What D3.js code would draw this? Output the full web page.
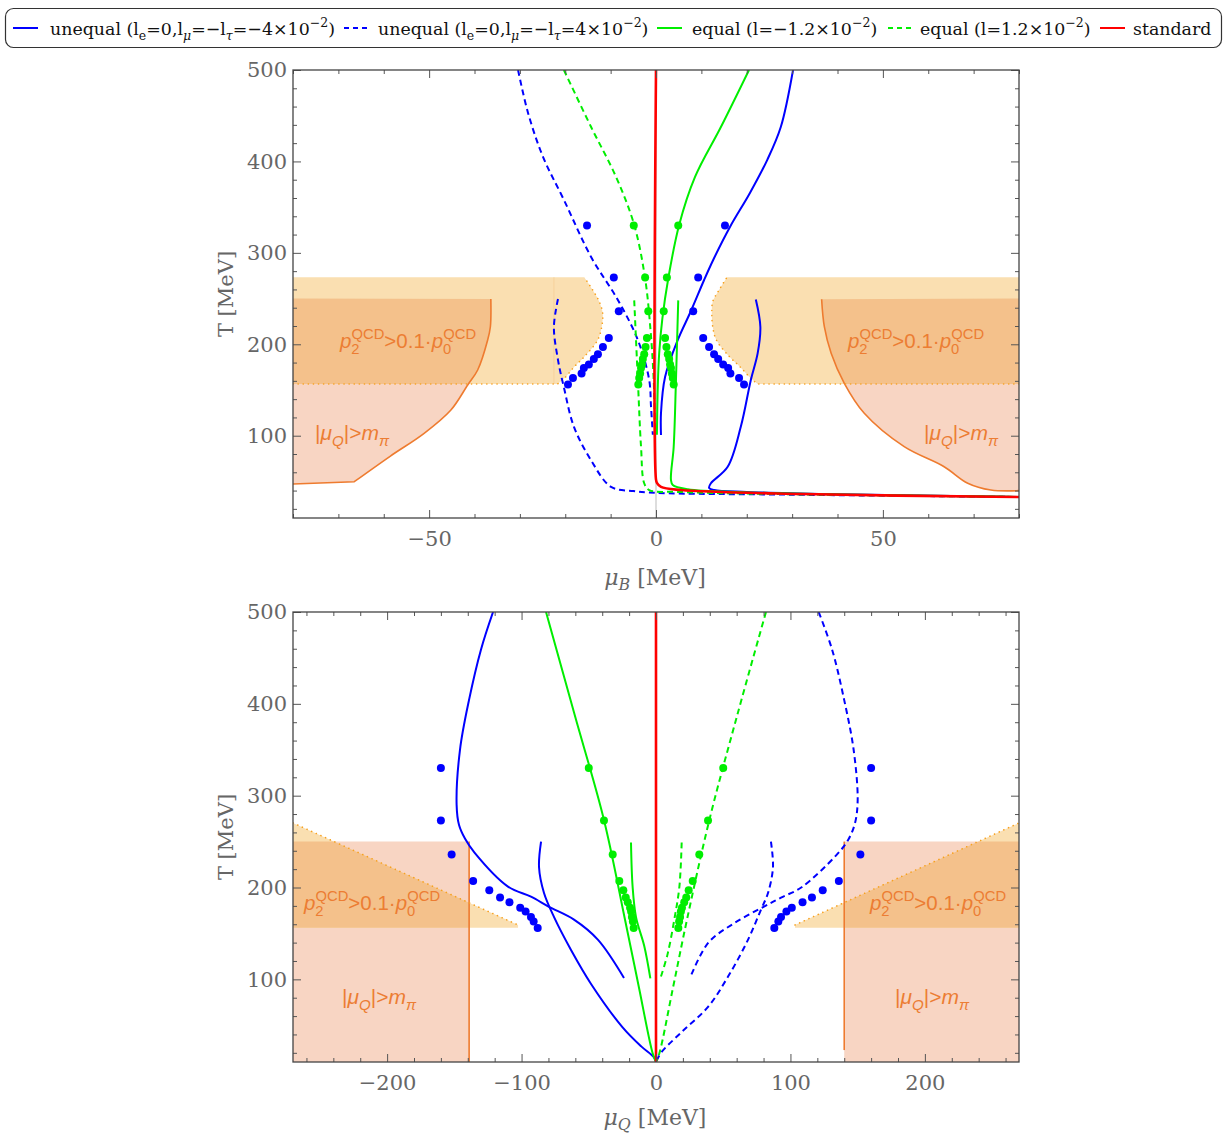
<!DOCTYPE html>
<html>
<head>
<meta charset="utf-8">
<script src="https://cdn.jsdelivr.net/npm/d3@7"></script>
<style>
body { margin: 0; background: #fff; }
svg { display: block; }
</style>
</head>
<body>
<div id="wrapper"></div>
<script>
var W = 1226, H = 1136;
var blue = "#0000ff", green = "#00ee00", red = "#ff0000";
var fillBand = "#fadfb1", fillPink = "#f8d5c3", fillBoth = "#f4c18b";
var orange = "#ee7b2f", orangeDot = "#f7a11f", labelOrange = "#ec7d33";

// legend
var legendLabels = [
	[["unequal (l"], ["e", "sub"], ["=0,l"], ["μ", "itsub"], ["=−l"], ["τ", "itsub"], ["=−4×10"], ["−2", "sup"], [")"]],
	[["unequal (l"], ["e", "sub"], ["=0,l"], ["μ", "itsub"], ["=−l"], ["τ", "itsub"], ["=4×10"], ["−2", "sup"], [")"]],
	[["equal (l=−1.2×10"], ["−2", "sup"], [")"]],
	[["equal (l=1.2×10"], ["−2", "sup"], [")"]],
	[["standard"]]
];
var legendColors = [blue, blue, green, green, red];
var legendDashed = [false, true, false, true, false];

// temperatures of the dots (same in both panels)
var dotT = [330, 273, 236, 207, 197, 189, 184, 178, 174, 168, 163, 156];

// ---------- upper panel: mu_B ----------
var muBTicks = [-50, 0, 50];
var muBMinor = [-80, -70, -60, -40, -30, -20, -10, 10, 20, 30, 40, 60, 70, 80];
var tTicks = [100, 200, 300, 400, 500];
var tMinor = [20, 40, 60, 80, 120, 140, 160, 180, 220, 240, 260, 280, 320, 340, 360, 380, 420, 440, 460, 480];

var muBStandard = [[0, 500], [0, 52], [0.2, 48.5], [1.1, 44], [5.5, 40.6], [32, 36.2], [80, 33]];
var muBBlueSolidHigh = [[30.2, 500], [27.5, 437.6], [24.5, 401.5], [20.7, 365.5], [16.3, 328.3], [12.6, 292.2], [10.6, 270.3], [7.7, 236.4], [4.8, 204.7], [2.0, 164.2], [1.1, 124.8], [1.1, 100.8]];
var muBBlueSolidLow = [[22.0, 249], [23.0, 219], [22.4, 190], [20.9, 161], [18.7, 110], [15.8, 66], [12.1, 48], [11.7, 43], [12.8, 40.6], [20, 38.5], [40, 36], [80, 33]];
var muBBlueDashedHigh = [[-30.4, 500], [-28.2, 453], [-24.9, 405], [-20.3, 358], [-14.3, 295.5], [-8.4, 248.4], [-4, 204.7], [-1.5, 161], [-1.1, 132], [-0.7, 101]];
var muBBlueDashedLow = [[-21.6, 249.5], [-22.5, 219], [-21.6, 183], [-20.3, 153], [-18.1, 110], [-14.3, 73], [-9.9, 44], [-5, 39.5], [0, 37.5], [30, 35.5], [80, 33]];
var muBGreenSolidHigh = [[20.5, 500], [14.3, 437.6], [8.6, 383], [5.1, 330.5], [2.7, 272], [1.4, 228], [0.7, 190], [0.4, 155], [0.2, 101]];
var muBGreenSolidLow = [[4.9, 248], [4.4, 161], [3.9, 88], [3.3, 51.6], [3.7, 46], [7, 41.4], [20, 38], [80, 33]];
var muBGreenDashedHigh = [[-20.3, 500], [-14.3, 437.6], [-8.8, 383], [-4.8, 330.5], [-2.4, 272], [-1.2, 215], [-0.5, 160], [-0.2, 101]];
var muBGreenDashedLow = [[-4.8, 248], [-4.0, 161], [-3.3, 88], [-2.6, 48], [-1.5, 40.6], [5, 38.5], [30, 36], [80, 33]];
var muBDotsBlue = [15.2, 9.3, 8.2, 10.4, 11.7, 12.8, 13.7, 14.8, 15.9, 16.4, 18.3, 19.4];
var muBDotsGreen = [4.9, 2.4, 1.7, 2.0, 2.3, 2.6, 2.9, 3.1, 3.3, 3.5, 3.7, 3.9];

// shaded regions, upper panel
var muBBandT = [156.6, 273.3];
var muBBandEdgeLeft = [[-15.8, 273.3], [-13.95, 259.4], [-12.5, 246.6], [-11.75, 233.9], [-11.97, 219.2], [-12.85, 204.7], [-15.8, 186.4], [-18.0, 175.5], [-20.2, 162.8], [-21.7, 156.6]];
var muBBandEdgeRight = [[15.65, 273.3], [13.9, 259.4], [12.5, 246.6], [12.3, 233.9], [12.5, 219.2], [13.3, 204.7], [16.2, 186.4], [18.5, 175.5], [20.9, 162.8], [22.4, 156.6]];
var muBPinkTop = 250;
var muBPinkEdgeLeft = [[-36.4, 249.5], [-36.5, 219.2], [-37.1, 204.7], [-39.3, 171.9], [-41.5, 155.5], [-45.2, 128.1], [-51.1, 102.6], [-58.6, 77.5], [-66.5, 49.7], [-80, 47.2]];
var muBPinkEdgeRight = [[36.5, 249.2], [37.1, 219.2], [38.6, 190.1], [41.5, 157.3], [45.9, 124.5], [54.7, 88], [63.5, 66.1], [68.7, 48], [73.8, 40.6], [80, 39.9]];

// ---------- lower panel: mu_Q ----------
var muQTicks = [-200, -100, 0, 100, 200];
var muQMinor = [-260, -240, -220, -180, -160, -140, -120, -80, -60, -40, -20, 20, 40, 60, 80, 120, 140, 160, 180, 220, 240, 260];

var muQStandard = [[0, 500], [0, 10]];
var muQBlueSolidHigh = [[-121.2, 500], [-130.2, 459], [-139.1, 404], [-145.8, 350], [-148.3, 290], [-146.5, 268], [-142, 253], [-135, 238], [-110.1, 201], [-93, 190], [-79.6, 179], [-61, 165], [-43.1, 143], [-23.8, 101.5]];
var muQBlueSolidLow = [[-85.5, 250], [-87, 222], [-83.3, 194], [-75.9, 168], [-63.2, 132], [-48.3, 95], [-25, 48], [-11, 27], [-1.5, 15], [0, 10]];
var muQBlueDashedHigh = [[121, 500], [131, 459], [140, 404], [147, 350], [150, 295], [148, 270], [143, 252], [134, 235], [108, 200], [93, 189], [80, 179], [58, 161], [39, 140], [26, 104]];
var muQBlueDashedLow = [[85.5, 250], [87, 222], [83.3, 194], [78.1, 176], [68.4, 143], [53.6, 103], [38.7, 70], [18.6, 42], [3.7, 20], [0, 10]];
var muQGreenSolidHigh = [[-81.8, 500], [-60.3, 387], [-38.7, 273.6], [-23, 164.7], [-12.8, 92], [-2.5, 19.5], [0, 10]];
var muQGreenSolidLow = [[-18.6, 249], [-17.4, 201], [-14.9, 168], [-8.7, 136], [-4.2, 101]];
var muQGreenDashedHigh = [[81.8, 500], [60.3, 387], [39.7, 273.6], [23, 164.7], [12.8, 92], [2.5, 19.5], [0, 10]];
var muQGreenDashedLow = [[19.1, 249], [17.4, 201], [13.6, 165], [8.7, 128], [3.7, 103]];
var muQDotsBlue = [160, 160, 152, 136, 124, 116, 109, 101, 97, 93, 91, 88];
var muQDotsGreen = [50, 38.7, 32.2, 27.3, 24.3, 22.5, 21, 19.3, 18.5, 17.9, 17.2, 16.6];

// shaded regions, lower panel
var muQPinkT = [10, 250];
var muQPinkLeft = -139;
var muQPinkRight = 140;
var muQPinkRightLineEnd = 23;
var muQBandLeft = [[-270, 270.3], [-102.6, 159.2], [-102.6, 156.3], [-270, 156.3]];
var muQBandRight = [[103.4, 159.2], [270, 270.3], [270, 156.3], [103.4, 156.3]];


var svg = d3.select("#wrapper").append("svg")
	.attr("width", W)
	.attr("height", H)
	.style("font-family", "'DejaVu Serif', serif");

svg.append("rect").attr("width", W).attr("height", H).attr("fill", "#fff");

// text with sub/superscripts built from [string, style, dx] parts
function richText(sel, parts, size, subShift){
	var shift = 0;
	var down = subShift == null ? 0.3 : subShift;
	parts.forEach(function(p){
		var s = p[1] || "";
		var target = 0, fs = size;
		if (s.indexOf("sub") >= 0){ target = size * down; fs = size * 0.72; }
		if (s.indexOf("sup") >= 0){ target = -size * 0.42; fs = size * 0.72; }
		var t = sel.append("tspan").text(p[0])
			.attr("dy", target - shift)
			.style("font-size", fs + "px");
		if (s.indexOf("it") >= 0) t.style("font-style", "italic");
		if (p[2] != null) t.attr("dx", p[2]);
		shift = target;
	});
}

function drawPanel(o){
	var sx = d3.scaleLinear().domain(o.xDomain).range([293, 1019]);
	var sy = d3.scaleLinear().domain([10, 500]).range([o.bottom, o.top]);
	var g = svg.append("g");

	var clipId = "clip" + o.name;
	svg.append("clipPath").attr("id", clipId).append("rect")
		.attr("x", 293).attr("y", o.top).attr("width", 726).attr("height", o.bottom - o.top);
	var plot = g.append("g").attr("clip-path", "url(#" + clipId + ")");

	var smooth = d3.line().x(function(d){ return sx(d[0]); }).y(function(d){ return sy(d[1]); })
		.curve(d3.curveCatmullRom.alpha(0.5));
	var straight = d3.line().x(function(d){ return sx(d[0]); }).y(function(d){ return sy(d[1]); });

	o.regions(plot, sx, sy, smooth, straight);

	// zero axis
	plot.append("line")
		.attr("x1", sx(0)).attr("x2", sx(0)).attr("y1", o.top).attr("y2", o.bottom)
		.attr("stroke", "#bbb").attr("stroke-width", 1);

	o.curves.forEach(function(c){
		plot.append("path")
			.attr("d", smooth(c.pts))
			.attr("fill", "none")
			.attr("stroke", c.color)
			.attr("stroke-width", c.color == red ? 2.6 : 2)
			.attr("stroke-dasharray", c.dashed ? "6,4" : null);
	});

	o.dots.forEach(function(d){
		dotT.forEach(function(t, i){
			[-1, 1].forEach(function(sgn){
				plot.append("circle")
					.attr("cx", sx(sgn * d.values[i]))
					.attr("cy", sy(t))
					.attr("r", 4)
					.attr("fill", d.color);
			});
		});
	});

	o.labels(plot, sx, sy);

	// frame and ticks
	var specs = [
		[d3.axisBottom(sx).tickValues(o.xTicks).tickSize(-8).tickPadding(13), 0, o.bottom],
		[d3.axisBottom(sx).tickValues(o.xMinor).tickSize(-4).tickFormat(""), 0, o.bottom],
		[d3.axisTop(sx).tickValues(o.xTicks).tickSize(-8).tickFormat(""), 0, o.top],
		[d3.axisTop(sx).tickValues(o.xMinor).tickSize(-4).tickFormat(""), 0, o.top],
		[d3.axisLeft(sy).tickValues(tTicks).tickSize(-8).tickPadding(6), 293, 0],
		[d3.axisLeft(sy).tickValues(tMinor).tickSize(-4).tickFormat(""), 293, 0],
		[d3.axisRight(sy).tickValues(tTicks).tickSize(-8).tickFormat(""), 1019, 0],
		[d3.axisRight(sy).tickValues(tMinor).tickSize(-4).tickFormat(""), 1019, 0]
	];
	specs.forEach(function(s){
		var a = g.append("g").attr("transform", "translate(" + s[1] + "," + s[2] + ")").call(s[0]);
		a.select(".domain").remove();
		a.selectAll("line").attr("stroke", "#555").attr("stroke-width", 1);
		a.selectAll("text").attr("fill", "#666")
			.style("font-family", "'DejaVu Serif', serif")
			.style("font-size", "21px");
	});
	g.append("rect")
		.attr("x", 293).attr("y", o.top).attr("width", 726).attr("height", o.bottom - o.top)
		.attr("fill", "none").attr("stroke", "#444").attr("stroke-width", 1.3);

	// axis titles
	g.append("text")
		.attr("transform", "translate(233," + ((o.top + o.bottom) / 2) + ") rotate(-90)")
		.attr("text-anchor", "middle")
		.attr("fill", "#666")
		.style("font-size", "21px")
		.text("T [MeV]");
	var xt = g.append("text")
		.attr("x", 655).attr("y", o.titleY)
		.attr("text-anchor", "middle")
		.attr("fill", "#666");
	richText(xt, [["μ", "it"], [o.sub, "itsub"], [" [MeV]"]], 22, 0.22);
}

function orangeLabels(plot, pos){
	pos.p2.forEach(function(p){
		var t = plot.append("text").attr("x", p[0]).attr("y", p[1])
			.attr("text-anchor", "middle").attr("fill", labelOrange)
			.style("font-family", "'Liberation Sans', Arial, sans-serif");
		richText(t, [["p", "it"], ["2", "sub"], ["QCD", "sup", -8], [">0.1·"], ["p", "it"], ["0", "sub"], ["QCD", "sup", -8]], 20.5);
	});
	pos.mq.forEach(function(p){
		var t = plot.append("text").attr("x", p[0]).attr("y", p[1])
			.attr("text-anchor", "middle").attr("fill", labelOrange)
			.style("font-family", "'Liberation Sans', Arial, sans-serif");
		richText(t, [["|"], ["μ", "it"], ["Q", "itsub"], ["|>"], ["m", "it"], ["π", "itsub"]], 21);
	});
}

// ---------- upper panel ----------
drawPanel({
	name: "B", sub: "B",
	xDomain: [-80, 80], top: 70, bottom: 518, titleY: 585,
	xTicks: muBTicks, xMinor: muBMinor,
	curves: [
		{pts: muBBlueDashedHigh, color: blue, dashed: true},
		{pts: muBBlueDashedLow, color: blue, dashed: true},
		{pts: muBBlueSolidHigh, color: blue},
		{pts: muBBlueSolidLow, color: blue},
		{pts: muBGreenDashedHigh, color: green, dashed: true},
		{pts: muBGreenDashedLow, color: green, dashed: true},
		{pts: muBGreenSolidHigh, color: green},
		{pts: muBGreenSolidLow, color: green},
		{pts: muBStandard, color: red}
	],
	dots: [{values: muBDotsBlue, color: blue}, {values: muBDotsGreen, color: green}],
	regions: function(plot, sx, sy, smooth, straight){
		function lineTo(pts){ return smooth(pts).replace(/^M/, "L"); }
		// left edge: smooth, then a straight tail to the frame
		function pinkEdge(pts){
			var last = pts[pts.length - 1];
			return smooth(pts.slice(0, -1)) + "L" + sx(last[0]) + "," + sy(last[1]);
		}
		var edgeL = pinkEdge(muBPinkEdgeLeft);
		var edgeR = smooth(muBPinkEdgeRight);
		var pinkL = "M" + sx(-80) + "," + sy(muBPinkTop) + edgeL.replace(/^M/, "L") + "Z";
		var pinkR = "M" + sx(80) + "," + sy(muBPinkTop) + edgeR.replace(/^M/, "L") + "Z";
		var bandL = "M" + sx(-80) + "," + sy(muBBandT[1]) + lineTo(muBBandEdgeLeft) +
			"L" + sx(-80) + "," + sy(muBBandT[0]) + "Z";
		var bandR = "M" + sx(80) + "," + sy(muBBandT[1]) + lineTo(muBBandEdgeRight) +
			"L" + sx(80) + "," + sy(muBBandT[0]) + "Z";

		var cp = svg.append("clipPath").attr("id", "bandB");
		cp.append("path").attr("d", bandL);
		cp.append("path").attr("d", bandR);

		[pinkL, pinkR].forEach(function(d){ plot.append("path").attr("d", d).attr("fill", fillPink); });
		[bandL, bandR].forEach(function(d){ plot.append("path").attr("d", d).attr("fill", fillBand); });
		[pinkL, pinkR].forEach(function(d){
			plot.append("path").attr("d", d).attr("fill", fillBoth).attr("clip-path", "url(#bandB)");
		});
		// faint seam inside the left band
		plot.append("line")
			.attr("x1", sx(-22.5)).attr("x2", sx(-22.5))
			.attr("y1", sy(muBBandT[1])).attr("y2", sy(muBBandT[0]))
			.attr("stroke", "#f3c98e").attr("stroke-opacity", 0.6).attr("stroke-width", 1);

		[edgeL, edgeR].forEach(function(d){
			plot.append("path").attr("d", d).attr("fill", "none")
				.attr("stroke", orange).attr("stroke-width", 1.6);
		});
		var dotL = "M" + sx(-80) + "," + sy(muBBandT[0]) + lineTo(muBBandEdgeLeft.slice().reverse());
		var dotR = "M" + sx(80) + "," + sy(muBBandT[0]) + lineTo(muBBandEdgeRight.slice().reverse());
		[dotL, dotR].forEach(function(d){
			plot.append("path").attr("d", d).attr("fill", "none")
				.attr("stroke", orangeDot).attr("stroke-width", 1.6)
				.attr("stroke-linecap", "round").attr("stroke-dasharray", "0.1,5");
		});
	},
	labels: function(plot){
		orangeLabels(plot, {p2: [[408, 348], [916, 348]], mq: [[352, 440], [961, 440]]});
	}
});

// ---------- lower panel ----------
drawPanel({
	name: "Q", sub: "Q",
	xDomain: [-270, 270], top: 612, bottom: 1062, titleY: 1125,
	xTicks: muQTicks, xMinor: muQMinor,
	curves: [
		{pts: muQBlueDashedHigh, color: blue, dashed: true},
		{pts: muQBlueDashedLow, color: blue, dashed: true},
		{pts: muQBlueSolidHigh, color: blue},
		{pts: muQBlueSolidLow, color: blue},
		{pts: muQGreenDashedHigh, color: green, dashed: true},
		{pts: muQGreenDashedLow, color: green, dashed: true},
		{pts: muQGreenSolidHigh, color: green},
		{pts: muQGreenSolidLow, color: green},
		{pts: muQStandard, color: red}
	],
	dots: [{values: muQDotsBlue, color: blue}, {values: muQDotsGreen, color: green}],
	regions: function(plot, sx, sy, smooth, straight){
		var pinkL = straight([[-270, muQPinkT[0]], [-270, muQPinkT[1]], [muQPinkLeft, muQPinkT[1]], [muQPinkLeft, muQPinkT[0]]]) + "Z";
		var pinkR = straight([[270, muQPinkT[0]], [270, muQPinkT[1]], [muQPinkRight, muQPinkT[1]], [muQPinkRight, muQPinkT[0]]]) + "Z";
		var bandL = straight(muQBandLeft) + "Z";
		var bandR = straight(muQBandRight) + "Z";

		var cp = svg.append("clipPath").attr("id", "bandQ");
		cp.append("path").attr("d", bandL);
		cp.append("path").attr("d", bandR);

		[pinkL, pinkR].forEach(function(d){ plot.append("path").attr("d", d).attr("fill", fillPink); });
		[bandL, bandR].forEach(function(d){ plot.append("path").attr("d", d).attr("fill", fillBand); });
		[pinkL, pinkR].forEach(function(d){
			plot.append("path").attr("d", d).attr("fill", fillBoth).attr("clip-path", "url(#bandQ)");
		});

		plot.append("path").attr("d", straight([[muQPinkLeft, muQPinkT[1]], [muQPinkLeft, muQPinkT[0]]]))
			.attr("stroke", orange).attr("stroke-width", 1.6);
		plot.append("path").attr("d", straight([[muQPinkRight, muQPinkT[1]], [muQPinkRight, muQPinkRightLineEnd]]))
			.attr("stroke", orange).attr("stroke-width", 1.6);

		[muQBandLeft.slice(0, 2), muQBandRight.slice(0, 2)].forEach(function(pts){
			plot.append("path").attr("d", straight(pts)).attr("fill", "none")
				.attr("stroke", orangeDot).attr("stroke-width", 1.6)
				.attr("stroke-linecap", "round").attr("stroke-dasharray", "0.1,5");
		});
	},
	labels: function(plot){
		orangeLabels(plot, {p2: [[372, 910], [938, 910]], mq: [[379, 1004], [932, 1004]]});
	}
});

// ---------- legend ----------
var legend = svg.append("g");
legend.append("rect")
	.attr("x", 5.5).attr("y", 8.5).attr("width", 1216).attr("height", 39).attr("rx", 8)
	.attr("fill", "#fff").attr("stroke", "#333").attr("stroke-width", 1.2);

var legendLineX = [13, 344, 657, 888, 1100];
var legendTextX = [50, 378, 692, 920, 1133];
legendLabels.forEach(function(parts, i){
	legend.append("line")
		.attr("x1", legendLineX[i]).attr("x2", legendLineX[i] + 25)
		.attr("y1", 28).attr("y2", 28)
		.attr("stroke", legendColors[i]).attr("stroke-width", 2)
		.attr("stroke-dasharray", legendDashed[i] ? "5,4" : null);
	var t = legend.append("text").attr("x", legendTextX[i]).attr("y", 34.5).attr("fill", "#111");
	richText(t, parts, 17.4);
});
</script>
</body>
</html>
